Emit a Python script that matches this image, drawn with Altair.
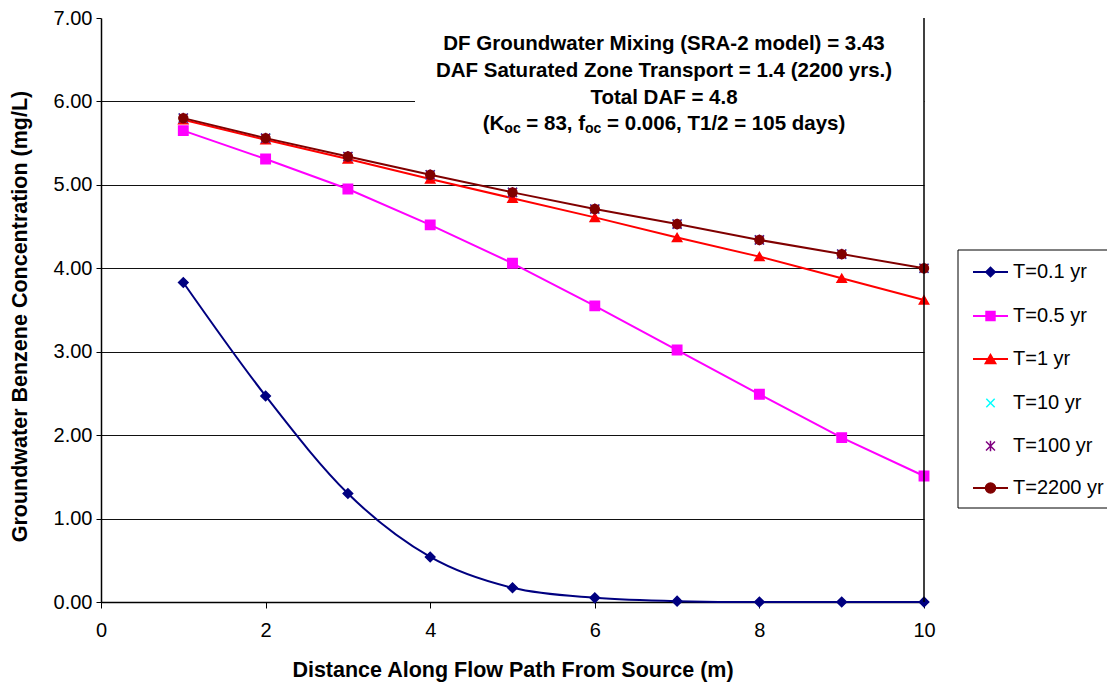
import altair as alt
import pandas as pd

# ---------------- data ----------------
distance = [1, 2, 3, 4, 5, 6, 7, 8, 9, 10]
series_names = ["T=0.1 yr", "T=0.5 yr", "T=1 yr", "T=10 yr", "T=100 yr", "T=2200 yr"]
t_01 = [3.83, 2.47, 1.30, 0.54, 0.17, 0.05, 0.01, 0.00, 0.00, 0.00]
t_05 = [5.65, 5.31, 4.95, 4.52, 4.06, 3.55, 3.02, 2.49, 1.97, 1.51]
t_1 = [5.78, 5.54, 5.31, 5.07, 4.84, 4.61, 4.37, 4.14, 3.88, 3.62]
t_10 = [5.80, 5.56, 5.34, 5.12, 4.91, 4.71, 4.53, 4.34, 4.17, 4.00]
t_100 = [5.80, 5.56, 5.34, 5.12, 4.91, 4.71, 4.53, 4.34, 4.17, 4.00]
t_2200 = [5.80, 5.56, 5.34, 5.12, 4.91, 4.71, 4.53, 4.34, 4.17, 4.00]
x_ticks = [0, 2, 4, 6, 8, 10]
y_ticks = [0, 1, 2, 3, 4, 5, 6, 7]

colors = ["#000080", "#FF00FF", "#FF0000", "#00FFFF", "#800080", "#800000"]
X_PATH = "M-1,-1L1,1M-1,1L1,-1"
STAR_PATH = "M-1,-1L1,1M-1,1L1,-1M0,-1.2L0,1.2"
shapes = ["diamond", "square", "triangle-up", X_PATH, STAR_PATH, "circle"]
sizes = [90, 80, 110, 70, 80, 100]
has_line = [True, True, True, False, False, True]

annot_lines = [
    "DF Groundwater Mixing (SRA-2 model) = 3.43",
    "DAF Saturated Zone Transport = 1.4 (2200 yrs.)",
    "Total DAF = 4.8",
]
annot_last = [("(K", False), ("oc", True), (" = 83, f", False), ("oc", True),
              (" = 0.006, T1/2 = 105 days)", False)]

# ---------------- layout / style ----------------
W, H = 823, 584
FONT = "Liberation Sans"
FS = 20
AFS = 20.5
TFS = 21.5
SUB_FS = 14

rows = []
for name, vals in zip(series_names, [t_01, t_05, t_1, t_10, t_100, t_2200]):
    for d, v in zip(distance, vals):
        rows.append({"distance": d, "conc": v, "series": name})
df = pd.DataFrame(rows)

x_enc = alt.X(
    "distance:Q",
    scale=alt.Scale(domain=[0, 10], nice=False, zero=False),
    axis=alt.Axis(
        values=x_ticks, grid=False, title="Distance Along Flow Path From Source (m)",
        labelFont=FONT, labelFontSize=FS, labelColor="black", labelPadding=12,
        labelFlush=False,
        tickSize=6, tickColor="black", domainColor="black", domainWidth=1.5,
        titleFont=FONT, titleFontSize=TFS, titleFontWeight="bold", titleColor="black",
        titleX=W / 2, titleY=68, titleBaseline="middle", titleAlign="center",
    ),
)
y_enc = alt.Y(
    "conc:Q",
    scale=alt.Scale(domain=[0, 7], nice=False, zero=True),
    axis=alt.Axis(
        values=y_ticks, format=".2f", grid=True, gridColor="#111111", gridWidth=1,
        gridOpacity={"condition": {"test": "datum.value >= 7", "value": 0}, "value": 1},
        title="Groundwater Benzene Concentration (mg/L)",
        labelFont=FONT, labelFontSize=FS, labelColor="black", labelPadding=4,
        labelFlush=False,
        tickSize=5, tickColor="black", domainColor="black", domainWidth=1.5,
        titleFont=FONT, titleFontSize=TFS, titleFontWeight="bold", titleColor="black",
        titleX=-81, titleY=H / 2 + 6, titleAngle=270, titleBaseline="middle", titleAlign="center",
    ),
)

color_scale = alt.Scale(domain=series_names, range=colors)
base = alt.Chart(df)

smooth_line = base.transform_filter(alt.datum.series == series_names[0]).mark_line(
    interpolate="monotone", strokeWidth=2, color=colors[0]
).encode(x=x_enc, y=y_enc)

straight_names = [n for n, l in zip(series_names, has_line) if l][1:]
straight_lines = base.transform_filter(
    alt.FieldOneOfPredicate(field="series", oneOf=straight_names)
).mark_line(strokeWidth=2).encode(
    x=x_enc, y=y_enc,
    color=alt.Color("series:N", scale=color_scale, legend=None),
)

points = base.mark_point(filled=True, opacity=1, strokeWidth=1.5).encode(
    x=x_enc, y=y_enc,
    color=alt.Color("series:N", scale=color_scale, legend=None),
    stroke=alt.Stroke("series:N", scale=color_scale, legend=None),
    shape=alt.Shape("series:N", scale=alt.Scale(domain=series_names, range=shapes), legend=None),
    size=alt.Size("series:N", scale=alt.Scale(domain=series_names, range=sizes), legend=None),
)

one = alt.Chart(pd.DataFrame({"k": [0]}))

# annotation box
annot_box = one.mark_rect(fill="white", stroke=None).encode(
    x=alt.value(314), x2=alt.value(W), y=alt.value(0), y2=alt.value(122)
)

border = alt.Chart(pd.DataFrame({"distance": [10]})).mark_rule(
    color="black", strokeWidth=1.5
).encode(x=x_enc, y=alt.value(0), y2=alt.value(H))

layers = [smooth_line, straight_lines, points, annot_box, border]

ANNOT_CX = 563
ANNOT_Y = [26, 53, 80]
for txt, yy in zip(annot_lines, ANNOT_Y):
    layers.append(one.mark_text(
        font=FONT, fontSize=AFS, fontWeight="bold", color="black",
        align="center", baseline="middle", text=txt,
    ).encode(x=alt.value(ANNOT_CX), y=alt.value(yy)))

# last annotation line with subscripts (Arial-bold advance widths)
BOLD = {'(': 333, 'K': 722, 'o': 611, 'c': 556, ' ': 278, '=': 584, '8': 556, '3': 556,
        ',': 278, 'f': 333, '0': 556, '.': 278, '6': 556, 'T': 611, '1': 556, '/': 278,
        '2': 556, '5': 556, 'd': 611, 'a': 556, 'y': 556, 's': 556, ')': 333}

def w(s, fs):
    return sum(BOLD.get(ch, 556) for ch in s) * fs / 1000.0

total = sum(w(s, SUB_FS if sub else AFS) for s, sub in annot_last)
cur = ANNOT_CX - total / 2
for s, sub in annot_last:
    fs = SUB_FS if sub else AFS
    lead = len(s) - len(s.lstrip(" "))
    start = cur + w(" " * lead, fs)
    layers.append(one.mark_text(
        font=FONT, fontSize=fs, fontWeight="bold", color="black",
        align="left", baseline="middle", text=s.strip(),
    ).encode(x=alt.value(start), y=alt.value(106 + (5 if sub else 0))))
    cur += w(s, fs)

# legend
layers.append(one.mark_rect(fill="white", stroke="black", strokeWidth=1).encode(
    x=alt.value(857), x2=alt.value(1015), y=alt.value(232), y2=alt.value(490)))
LEG_Y = [254, 298, 341, 385, 428, 470]
for name, col, shp, sz, ln, yy in zip(series_names, colors, shapes, sizes, has_line, LEG_Y):
    if ln:
        layers.append(one.mark_rule(color=col, strokeWidth=2).encode(
            x=alt.value(872), x2=alt.value(907), y=alt.value(yy)))
    layers.append(one.mark_point(
        filled=True, opacity=1, shape=shp, size=sz, fill=col, stroke=col, strokeWidth=1.5
    ).encode(x=alt.value(889.5), y=alt.value(yy)))
    layers.append(one.mark_text(
        font=FONT, fontSize=FS, color="black", align="left", baseline="middle", text=name
    ).encode(x=alt.value(912), y=alt.value(yy)))

chart = alt.layer(*layers).properties(
    width=W, height=H,
    padding={"left": 101, "top": 18, "right": 183, "bottom": 81},
    autosize=alt.AutoSizeParams(type="none"),
    background="white",
).configure_view(stroke=None)

chart.save("out.html", embed_options={"renderer": "svg", "actions": False})
